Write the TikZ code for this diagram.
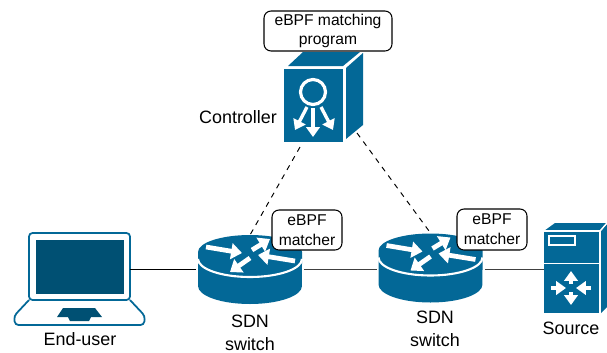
\documentclass[tikz,border=0pt]{standalone}
\usepackage{fontspec}
\setmainfont{Liberation Sans}
\usetikzlibrary{arrows.meta}
\definecolor{ciscoblue}{HTML}{036897}
\definecolor{screenblue}{HTML}{005073}
\tikzset{
  iconbox/.style={inner sep=0pt, outer sep=0pt},
  whitearrow/.style={white, line width=2.7pt, -{Triangle[length=6.2pt, width=9pt]}},
  slimarrow/.style={white, line width=1.9pt, -{Triangle[length=5.6pt, width=7.6pt]}},
  labelbox/.style={draw, fill=white, rounded corners=4pt, line width=.6pt, align=center, inner sep=0pt, font=\fontsize{8.9}{11.2}\selectfont},
  caption/.style={align=center, inner sep=0pt, font=\fontsize{10.2}{12.8}\selectfont},
  wire/.style={line width=.55pt},
  routericon/.pic={
    \fill[ciscoblue] (-52,0) -- (-52,34) arc (180:360:1.04cm and .36cm) -- (52,0) arc (0:180:1.04cm and .34cm) -- cycle;
    \draw[white, line width=1.2pt] (-52,7) arc (180:360:1.04cm and .36cm);
    \draw[whitearrow] (-44,-5) -- (-8,1);
    \draw[whitearrow] (2,-2) -- (20,-13);
    \draw[whitearrow] (45,9) -- (8,3);
    \draw[whitearrow] (0,6) -- (-20,20);
  }
}
\begin{document}
\begin{tikzpicture}[x=.02cm, y=-.02cm]
  \useasboundingbox (0,0) rectangle (607,352);
  % controller
  \fill[ciscoblue] (284,69) rectangle (343,142);
  \fill[ciscoblue] (288,66) -- (303,52) -- (360,52) -- (343,66) -- cycle;
  \fill[ciscoblue] (346,68) -- (363,53) -- (363,125) -- (346,139) -- cycle;
  \draw[white, line width=1.8pt] (313,92) circle (12.5);
  \draw[slimarrow] (307,107) -- (295,130);
  \draw[slimarrow] (313,108) -- (313,137);
  \draw[slimarrow] (321,107) -- (333,130);
  \node[labelbox, minimum width=2.56cm, minimum height=.8cm] (program) at (328,31) {eBPF matching\\program};
  \node[caption] (controller) at (238,117) {Controller};
  \node[iconbox, minimum width=1.58cm, minimum height=1.9cm] (ctrl) at (323.5,99.5) {};
  \coordinate (ctrlleft) at (300,147);
  \coordinate (ctrlright) at (357,133);
  % laptop
  \draw[ciscoblue, line width=1pt, rounded corners=2pt] (29,233) rectangle (130,300);
  \fill[screenblue] (36,240) rectangle (124,294);
  \draw[ciscoblue, line width=1pt, rounded corners=2pt] (29,300) -- (14,316) -- (15,325) -- (144,325) -- (145,316) -- (130,300);
  \fill[screenblue] (63,308) -- (95,308) -- (102,317) -- (91,317) -- (89,321) -- (70,321) -- (68,317) -- (57,317) -- cycle;
  \node[iconbox, minimum width=2.02cm, minimum height=.2cm] (laptop) at (79.5,269) {};
  \node[caption] (enduser) at (80,339) {End-user};
  % switches
  \pic at (250,252) {routericon};
  \pic at (430.5,250.5) {routericon};
  \node[iconbox, minimum width=2.16cm, minimum height=1.36cm] (switch1) at (250,269) {};
  \node[iconbox, minimum width=2.16cm, minimum height=1.44cm] (switch2) at (430.5,269) {};
  \node[labelbox, minimum width=1.4cm, minimum height=.8cm] (matcher1) at (307,230) {eBPF\\matcher};
  \node[labelbox, minimum width=1.4cm, minimum height=.82cm] (matcher2) at (492,229.5) {eBPF\\matcher};
  \node[caption] (sdn1) at (250,333) {SDN\\switch};
  \node[caption] (sdn2) at (435,329) {SDN\\switch};
  % source
  \fill[ciscoblue] (544,231) rectangle (600,313);
  \fill[ciscoblue] (544,231) -- (555,223) -- (607,223) -- (600,231) -- cycle;
  \fill[ciscoblue] (601,231) -- (607,224) -- (607,307) -- (601,313) -- cycle;
  \draw[white, line width=.8pt] (544,231) -- (600,231) -- (600,313) (544,263.5) -- (600,263.5);
  \draw[white, line width=.8pt] (600,231) -- (607,223);
  \draw[white, line width=1.2pt] (549,236) rectangle (575,245);
  \draw[slimarrow] (571,284) -- (571,271);
  \draw[slimarrow] (571,292) -- (571,305);
  \draw[slimarrow] (551,288) -- (566,288);
  \draw[slimarrow] (591,288) -- (576,288);
  \node[iconbox, minimum width=1.12cm, minimum height=.2cm] (server) at (572,269) {};
  \node[caption] (source) at (571,328) {Source};
  % links
  \draw[wire] (laptop.east) -- (switch1.west);
  \draw[wire, black!75] (switch1.east) -- (switch2.west);
  \draw[wire, black!75] (switch2.east) -- (server.west);
  \draw[wire, dashed] (ctrlleft) -- (switch1.north);
  \draw[wire, dashed] (ctrlright) -- (switch2.north);
\end{tikzpicture}
\end{document}
